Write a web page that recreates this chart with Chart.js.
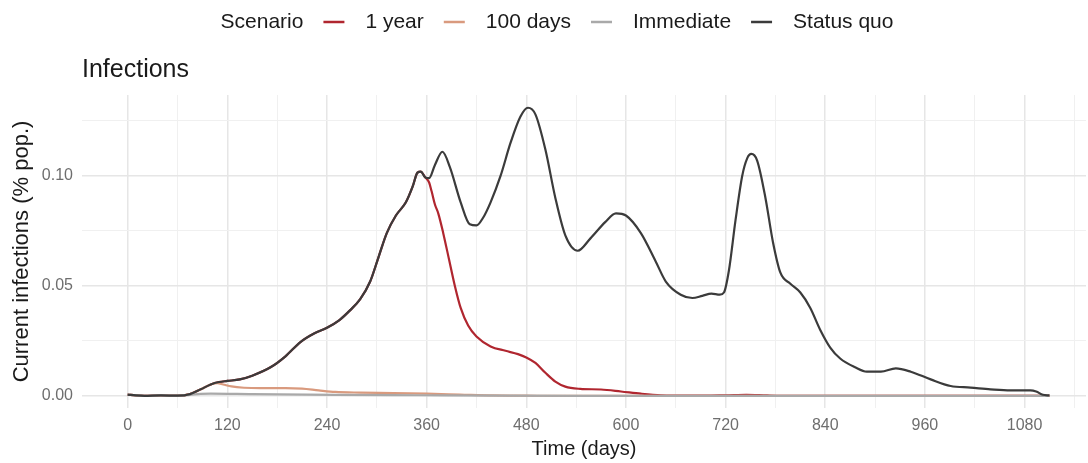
<!DOCTYPE html>
<html lang="en">
<head>
  <meta charset="UTF-8" />
  <title>Infections</title>
  <script src="https://cdn.jsdelivr.net/npm/chart.js"></script>
  <style>
    html, body { margin: 0; padding: 0; background: #fff; }
  </style>
</head>
<body>
  <canvas id="chart" width="1088" height="463"></canvas>

  <script>
    // data (days, % of population)
    const scenarioNames = ["1 year", "100 days", "Immediate", "Status quo"];
    const scenarioColors = ["#b0262f", "#d99a7e", "#a9a9a9", "#3b3b3b"];

    const statusQuoDays = [0, 10, 20, 40, 60, 75, 88, 100, 110, 120, 135, 150, 172, 190, 208, 225, 240, 255, 268, 280,
      292, 302, 312, 323, 335, 343, 349, 353, 358, 363, 370, 379, 388, 401, 412, 420, 428, 437, 449, 461,
      473, 482, 491, 503, 515, 527, 542, 557, 575, 588, 600, 618, 636, 648, 666, 680, 692, 703, 713, 718,
      724, 732, 740, 746, 751, 758, 768, 777, 786, 798, 810, 822, 834, 846, 858, 876, 890, 907, 925, 943,
      967, 991, 1015, 1039, 1063, 1087, 1094, 1102, 1110];
    const statusQuoValues = [0.0006, 0.0002, 0, 0.0002, 0.0001, 0.0008, 0.003, 0.0052, 0.0063, 0.0068,
      0.0075, 0.0092, 0.013, 0.018, 0.0245, 0.0285, 0.031, 0.0345, 0.039, 0.044,
      0.052, 0.063, 0.074, 0.082, 0.088, 0.095, 0.1015, 0.102, 0.0995, 0.099,
      0.105, 0.111, 0.104, 0.088, 0.078, 0.0775, 0.081, 0.088, 0.1, 0.115,
      0.127, 0.131, 0.128, 0.112, 0.09, 0.073, 0.066, 0.0715, 0.079, 0.083,
      0.082, 0.074, 0.061, 0.052, 0.046, 0.0445, 0.0455, 0.0465, 0.046, 0.047,
      0.057, 0.08, 0.1, 0.108, 0.11, 0.107, 0.09, 0.07, 0.056, 0.051,
      0.047, 0.04, 0.03, 0.022, 0.017, 0.013, 0.011, 0.011, 0.0125, 0.011,
      0.0075, 0.0045, 0.0038, 0.003, 0.0025, 0.0025, 0.002, 0.0005, 0.0002];

    const oneYearDays = [0, 10, 20, 40, 60, 75, 88, 100, 110, 120, 135, 150, 172, 190, 208, 225, 240, 255, 268, 280,
      292, 302, 312, 323, 335, 343, 349, 353, 358, 363, 366, 370, 374, 380, 387, 394, 401, 410, 420, 437,
      455, 470, 480, 491, 503, 515, 527, 545, 570, 594, 618, 642, 680, 720, 745, 770, 800, 900, 1000, 1110];
    const oneYearValues = [0.0006, 0.0002, 0, 0.0002, 0.0001, 0.0008, 0.003, 0.0052, 0.0063, 0.0068,
      0.0075, 0.0092, 0.013, 0.018, 0.0245, 0.0285, 0.031, 0.0345, 0.039, 0.044,
      0.052, 0.063, 0.074, 0.082, 0.088, 0.095, 0.1015, 0.102, 0.0995, 0.097,
      0.093, 0.087, 0.083, 0.074, 0.062, 0.05, 0.04, 0.032, 0.027, 0.0225,
      0.0205, 0.019, 0.0175, 0.015, 0.0105, 0.0065, 0.0042, 0.0032, 0.0029, 0.002,
      0.001, 0.0003, 0.0001, 0.0003, 0.0005, 0.0002, 0, 0, 0, 0];

    const hundredDaysDays = [0, 10, 20, 40, 60, 75, 88, 100, 108, 115, 125, 140, 160, 190, 210, 230, 250, 280, 320, 360,
      400, 440, 480, 540, 1110];
    const hundredDaysValues = [0.0006, 0.0002, 0, 0.0002, 0.0001, 0.0008, 0.003, 0.0052, 0.0058, 0.0052,
      0.0043, 0.0037, 0.0035, 0.0035, 0.0033, 0.0025, 0.0018, 0.0015, 0.0013, 0.001,
      0.0006, 0.0002, 0.0001, 0, 0];

    const immediateDays = [0, 10, 20, 40, 60, 75, 88, 100, 150, 250, 350, 450, 550, 1110];
    const immediateValues = [0.0006, 0.0002, 0, 0.0002, 0.0001, 0.0005, 0.0009, 0.001, 0.0008, 0.0005, 0.0003, 0.0001, 0, 0];

    const xTicks = [0, 60, 120, 180, 240, 300, 360, 420, 480, 540, 600, 660, 720, 780, 840, 900, 960, 1020, 1080, 1140];
    const yTicks = [0, 0.025, 0.05, 0.075, 0.1, 0.125];

    const chartTitle = "Infections";
    const legendTitle = "Scenario";

    const FONT = '"Liberation Sans", Arial, sans-serif';

    function toPoints(days, values) {
      return days.map((d, i) => ({ x: d, y: values[i] }));
    }

    function isMajorY(v) {
      return Math.abs(v * 20 - Math.round(v * 20)) < 1e-9;
    }

    // ggplot-style header: title + inline legend
    const headerPlugin = {
      id: "header",
      afterDraw(chart) {
        const ctx = chart.ctx;
        ctx.save();
        ctx.textBaseline = "middle";
        ctx.fillStyle = "#1a1a1a";
        ctx.font = "25px " + FONT;
        ctx.fillText(chartTitle, chart.chartArea.left, 70);

        ctx.font = "21px " + FONT;
        const lineLen = 21, gapA = 20, gapB = 21;
        let total = ctx.measureText(legendTitle).width;
        scenarioNames.forEach(n => { total += gapA + lineLen + gapB + ctx.measureText(n).width; });
        let x = 557 - total / 2;
        const y = 22;
        ctx.fillText(legendTitle, x, y);
        x += ctx.measureText(legendTitle).width;
        scenarioNames.forEach((n, i) => {
          x += gapA;
          ctx.strokeStyle = scenarioColors[i];
          ctx.lineWidth = 2.5;
          ctx.beginPath();
          ctx.moveTo(x, y);
          ctx.lineTo(x + lineLen, y);
          ctx.stroke();
          x += lineLen + gapB;
          ctx.fillStyle = "#1a1a1a";
          ctx.fillText(n, x, y);
          x += ctx.measureText(n).width;
        });
        ctx.restore();
      }
    };

    const datasets = [
      { label: scenarioNames[0], data: toPoints(oneYearDays, oneYearValues), borderColor: scenarioColors[0], order: 3 },
      { label: scenarioNames[1], data: toPoints(hundredDaysDays, hundredDaysValues), borderColor: scenarioColors[1], order: 2 },
      { label: scenarioNames[2], data: toPoints(immediateDays, immediateValues), borderColor: scenarioColors[2], order: 1 },
      { label: scenarioNames[3], data: toPoints(statusQuoDays, statusQuoValues), borderColor: scenarioColors[3], order: 0 }
    ];

    new Chart(document.getElementById("chart"), {
      type: "line",
      data: { datasets },
      options: {
        responsive: false,
        animation: false,
        layout: { padding: { top: 95, right: 2, left: 0, bottom: 0 } },
        elements: {
          point: { radius: 0 },
          line: { borderWidth: 2.2, cubicInterpolationMode: "monotone" }
        },
        plugins: {
          legend: { display: false },
          tooltip: { enabled: false }
        },
        scales: {
          x: {
            type: "linear",
            min: -55,
            max: 1154,
            afterBuildTicks: s => { s.ticks = xTicks.map(v => ({ value: v })); },
            afterFit: s => { s.height = 55; },
            border: { display: false },
            grid: {
              drawTicks: false,
              color: ctx => (ctx.tick && ctx.tick.value % 120 === 0) ? "#e6e6e6" : "#f0f0f0",
              lineWidth: ctx => (ctx.tick && ctx.tick.value % 120 === 0) ? 1.5 : 1
            },
            ticks: {
              autoSkip: false,
              maxRotation: 0,
              padding: 8,
              color: "#6e6e6e",
              font: { family: FONT, size: 16 },
              callback: v => (v % 120 === 0 ? String(v) : "")
            },
            title: {
              display: true,
              text: "Time (days)",
              color: "#1a1a1a",
              font: { family: FONT, size: 20 },
              padding: { top: 0, bottom: 2 }
            }
          },
          y: {
            min: -0.0055,
            max: 0.1368,
            afterBuildTicks: s => { s.ticks = yTicks.map(v => ({ value: v })); },
            afterFit: s => { s.width = 82; },
            border: { display: false },
            grid: {
              drawTicks: false,
              color: ctx => (ctx.tick && isMajorY(ctx.tick.value)) ? "#e6e6e6" : "#f0f0f0",
              lineWidth: ctx => (ctx.tick && isMajorY(ctx.tick.value)) ? 1.5 : 1
            },
            ticks: {
              padding: 9,
              color: "#6e6e6e",
              font: { family: FONT, size: 16 },
              callback: v => (isMajorY(v) ? v.toFixed(2) : "")
            },
            title: {
              display: true,
              text: "Current infections (% pop.)",
              color: "#1a1a1a",
              font: { family: FONT, size: 22 },
              padding: { top: 9, bottom: 0 }
            }
          }
        }
      },
      plugins: [headerPlugin]
    });
  </script>
</body>
</html>
